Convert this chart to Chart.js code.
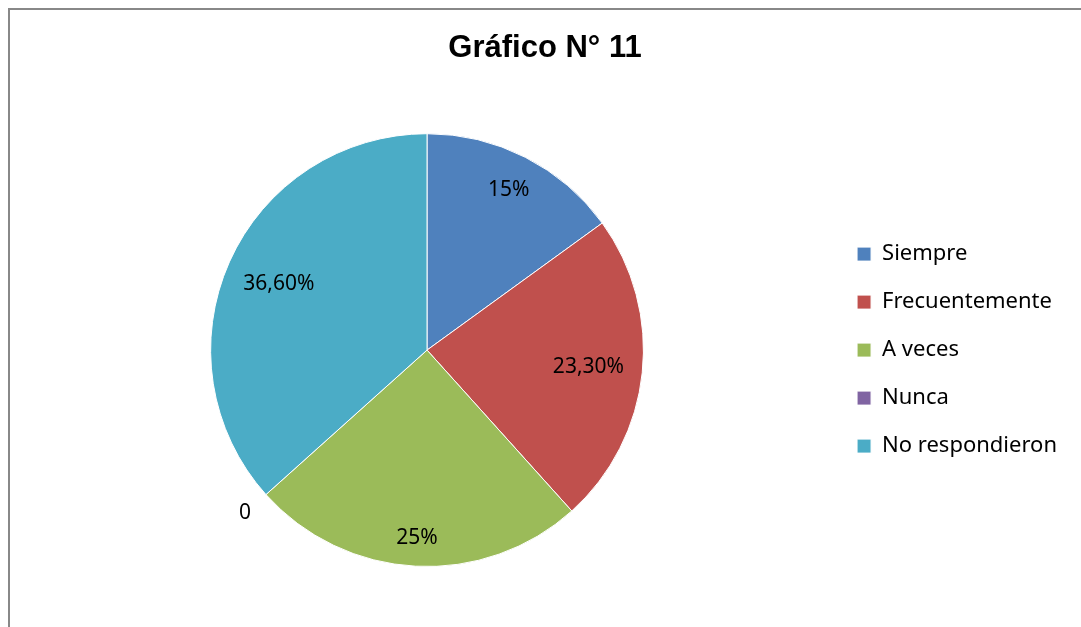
<!DOCTYPE html>
<html>
<head>
<meta charset="utf-8">
<script src="https://cdn.jsdelivr.net/npm/chart.js@4.4.0/dist/chart.umd.min.js"></script>
<style>
    body { margin: 0; background: #fff; }
    #wrap { position: relative; width: 1081px; height: 627px; overflow: hidden; }
    #frame { position: absolute; left: 8px; top: 8px; width: 1200px; height: 800px; border: 2px solid #888; pointer-events: none; }
</style>
</head>
<body>
<div id="wrap">
    <canvas id="chart" width="1081" height="627"></canvas>
    <div id="frame"></div>
</div>
<script>
// Chart data
const categories = ['Siempre', 'Frecuentemente', 'A veces', 'Nunca', 'No respondieron'];
const values = [15, 23.3, 25, 0, 36.6];
const valueLabels = ['15%', '23,30%', '25%', '0', '36,60%'];
const sliceColors = ['#4F81BD', '#C0504D', '#9BBB59', '#8064A2', '#4BACC6'];

// Where each label sits along its slice radius (fraction of radius)
const labelDistance = [0.83, 0.75, 0.87, 1.13, 0.75];

// Draw the value labels on the slices
const sliceLabels = {
    id: 'sliceLabels',
    afterDatasetsDraw(chart) {
        const ctx = chart.ctx;
        const arcs = chart.getDatasetMeta(0).data;
        ctx.save();
        ctx.font = '21px "Noto Sans"';
        ctx.fillStyle = '#000';
        ctx.textAlign = 'center';
        ctx.textBaseline = 'middle';
        arcs.forEach((arc, i) => {
            const mid = (arc.startAngle + arc.endAngle) / 2;
            const r = arc.outerRadius * labelDistance[i];
            const x = arc.x + Math.cos(mid) * r;
            const y = arc.y + Math.sin(mid) * r;
            ctx.fillText(valueLabels[i], x, y);
        });
        ctx.restore();
    }
};

new Chart(document.getElementById('chart'), {
    type: 'pie',
    data: {
        labels: categories,
        datasets: [{
            data: values,
            backgroundColor: sliceColors,
            borderColor: '#fff',
            borderWidth: 1,
        }],
    },
    options: {
        responsive: false,
        animation: false,
        layout: { padding: { left: 23, right: 14, top: 8, bottom: 60 } },
        plugins: {
            title: {
                display: true,
                text: 'Gráfico N° 11',
                color: '#000',
                font: { family: '"Liberation Sans", Arial', size: 31, weight: 'bold' },
                padding: { top: 22, bottom: 66 },
            },
            legend: {
                position: 'right',
                fullSize: false,
                labels: {
                    color: '#000',
                    font: { family: '"Noto Sans"', size: 22 },
                    boxWidth: 14,
                    boxHeight: 14,
                    padding: 26,
                },
            },
            tooltip: { enabled: false },
        },
    },
    plugins: [sliceLabels],
});
</script>
</body>
</html>
